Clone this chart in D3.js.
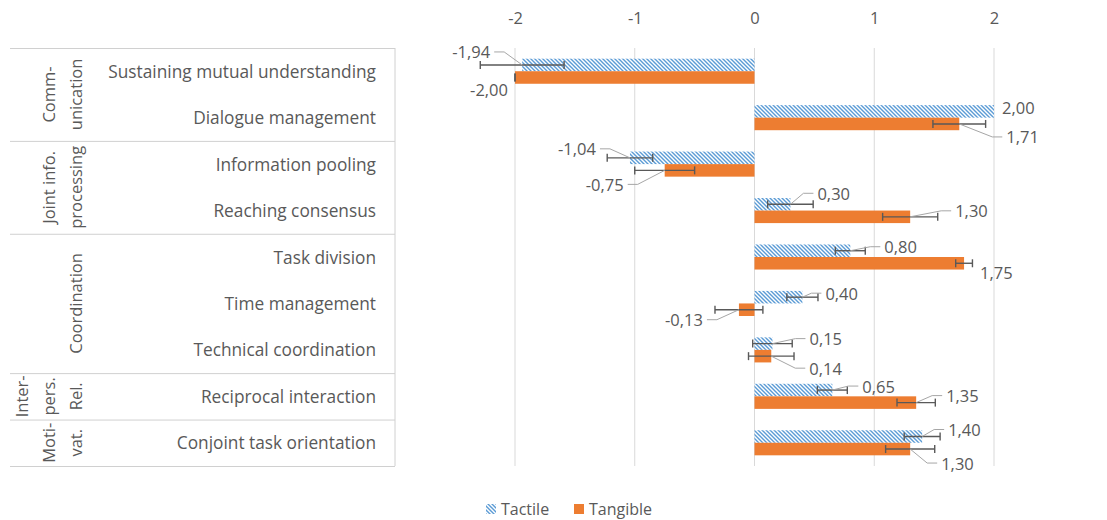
<!DOCTYPE html>
<html><head><meta charset="utf-8">
<script src="https://cdn.jsdelivr.net/npm/d3@7"></script>
<style>body{margin:0;background:#fff}svg{display:block}text{font-family:"Open Sans",sans-serif;fill:#595959}</style>
</head><body><svg id="c" width="1107" height="520"></svg>
<script>
const categories = ["Sustaining mutual understanding","Dialogue management","Information pooling","Reaching consensus","Task division","Time management","Technical coordination","Reciprocal interaction","Conjoint task orientation"];
const groupLabels = [["Comm-","unication"],["Joint info.","processing"],["Coordination"],["Inter-","pers.","Rel."],["Moti-","vat."]];
const groupSizes = [2,2,3,1,1];
const seriesNames = ["Tactile","Tangible"];
const tactile = [-1.94, 2.00, -1.04, 0.30, 0.80, 0.40, 0.15, 0.65, 1.40];
const tangible = [-2.00, 1.71, -0.75, 1.30, 1.75, -0.13, 0.14, 1.35, 1.30];
const tactileErr = [0.35, 0, 0.19, 0.19, 0.125, 0.13, 0.165, 0.125, 0.15];
const tangibleErr = [0, 0.22, 0.25, 0.23, 0.07, 0.20, 0.19, 0.16, 0.205];
const xTicks = [-2,-1,0,1,2];
// label placement offsets (layout, px) relative to bar end
const tactileLabelOff = [[-32,-13],[8,-4],[-34,-9],[27,-11],[34,-4],[23,-4],[37,-5],[30,-4],[26,-7]];
const tangibleLabelOff = [[-7,12],[47,13],[-41,14],[45,-6],[16,9],[-36,10],[38,12],[30,-7],[31,14]];

const FS = 16.5, CFS = 17.3;
const svg = d3.select("#c");
const plotTop = 48, plotBottom = 466;
const x = d3.scaleLinear().domain([-2,2]).range([515,994]);
const y = d3.scaleBand().domain(categories).range([plotTop,plotBottom]).paddingInner(0.46).paddingOuter(0.23);
const ys = d3.scaleBand().domain(seriesNames).range([0,y.bandwidth()]);
const step = y.step();
const hy = s => String(s).replace(/\u2212/g,"-");

const defs = svg.append("defs");
const pat = defs.append("pattern").attr("id","diag").attr("patternUnits","userSpaceOnUse").attr("width",4).attr("height",4);
pat.append("rect").attr("width",4).attr("height",4).attr("fill","#fff");
pat.append("path").attr("d","M-1,-1L5,5M-1,3L1,5M3,-1L5,1").attr("stroke","#5B9BD5").attr("stroke-width",1.4);

// gridlines
svg.append("g").selectAll("line").data(xTicks).join("line")
  .attr("x1",d=>x(d)).attr("x2",d=>x(d)).attr("y1",plotTop).attr("y2",plotBottom)
  .attr("stroke","#d9d9d9").attr("stroke-width",1);

// axis
const ax = svg.append("g").attr("transform",`translate(0,${plotTop})`)
  .call(d3.axisTop(x).tickValues(xTicks).tickSize(0).tickPadding(24).tickFormat(d=>hy(d3.format("d")(d))));
ax.select(".domain").remove();
ax.selectAll("text").attr("font-size",FS).style("font-family","'Open Sans',sans-serif").attr("fill","#595959");

// table
const tableL = 10, tableR = 395;
let bounds = [0]; groupSizes.forEach(s=>bounds.push(bounds[bounds.length-1]+s));
const tg = svg.append("g");
tg.selectAll("line.h").data(bounds).join("line")
  .attr("x1",tableL).attr("x2",tableR)
  .attr("y1",d=>plotTop+d*step+0.5).attr("y2",d=>plotTop+d*step+0.5)
  .attr("stroke","#d0d0d0");
tg.append("line").attr("x1",tableR).attr("x2",tableR).attr("y1",plotTop).attr("y2",plotTop+bounds[bounds.length-1]*step).attr("stroke","#d0d0d0");

tg.selectAll("text.cat").data(categories).join("text")
  .attr("x",376).attr("y",d=>y(d)+y.bandwidth()/2).attr("text-anchor","end").attr("dominant-baseline","central")
  .attr("font-size",CFS).text(d=>d);

groupLabels.forEach((lines,i)=>{
  const yc = plotTop + (bounds[i]+groupSizes[i]/2)*step;
  lines.forEach((t,j)=>{
    const lx = 75 - (lines.length-1-j)*27;
    tg.append("text").attr("transform",`translate(${lx},${yc}) rotate(-90)`)
      .attr("text-anchor","middle").attr("dominant-baseline","central").attr("font-size",FS).text(t);
  });
});

// bars
const series = [
  {name:"Tactile", vals:tactile, err:tactileErr, off:tactileLabelOff, fill:"url(#diag)"},
  {name:"Tangible", vals:tangible, err:tangibleErr, off:tangibleLabelOff, fill:"#ED7D31"}
];
const bg = svg.append("g");
series.forEach(s=>{
  const rows = categories.map((c,i)=>({c,v:s.vals[i],e:s.err[i],o:s.off[i]}));
  const by = d=>y(d.c)+ys(s.name);
  const h = ys.bandwidth();
  bg.append("g").selectAll("rect").data(rows).join("rect")
    .attr("x",d=>Math.min(x(0),x(d.v))).attr("width",d=>Math.abs(x(d.v)-x(0)))
    .attr("y",by).attr("height",h).attr("fill",s.fill);
  // error bars
  const eg = bg.append("g").attr("stroke","#595959").attr("stroke-width",1.4);
  rows.forEach(d=>{
    const yc = by(d)+h/2;
    if (d.e===0 && s.name==="Tactile") return;
    eg.append("line").attr("x1",x(d.v-d.e)).attr("x2",x(d.v+d.e)).attr("y1",yc).attr("y2",yc);
    [d.v-d.e,d.v+d.e].forEach(v=>eg.append("line").attr("x1",x(v)).attr("x2",x(v)).attr("y1",yc-4).attr("y2",yc+4));
  });
  // labels + leaders
  const fmt = v=>hy(d3.format(".2f")(v)).replace(".",",");
  rows.forEach(d=>{
    const ex = x(d.v), ey = by(d)+h/2;
    const sgn = d.o[0]<0 ? -1 : 1;
    const tx = ex + d.o[0], ty = ey + d.o[1];
    const dist = Math.hypot(d.o[0],d.o[1]);
    if (dist > 20) {
      const endX = tx - sgn*4, elbowX = tx - sgn*14;
      bg.append("polyline").attr("points",`${ex},${ey} ${elbowX},${ty} ${endX},${ty}`)
        .attr("fill","none").attr("stroke","#a6a6a6").attr("stroke-width",1);
    }
    bg.append("text").attr("x",tx).attr("y",ty).attr("text-anchor",sgn<0?"end":"start")
      .attr("dominant-baseline","central").attr("font-size",FS).text(fmt(d.v));
  });
});

// legend
const lg = svg.append("g");
const legX = [486, 574];
series.forEach((s,i)=>{
  lg.append("rect").attr("x",legX[i]).attr("y",504).attr("width",10).attr("height",10).attr("fill",s.fill);
  lg.append("text").attr("x",legX[i]+15).attr("y",509).attr("dominant-baseline","central").attr("font-size",16).text(s.name);
});
</script></body></html>
